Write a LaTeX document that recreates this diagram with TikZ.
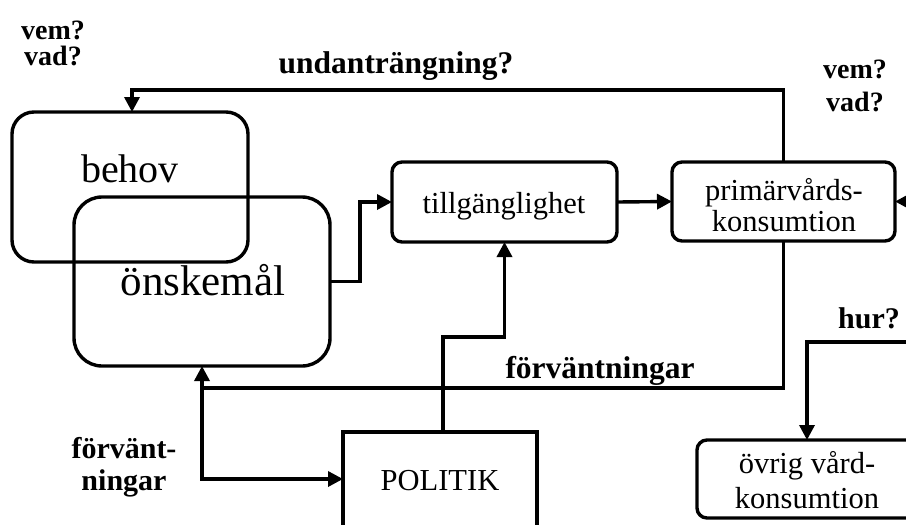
\documentclass[tikz,border=0pt]{standalone}
\usepackage{fontspec}
\setmainfont{Liberation Serif}
\usetikzlibrary{arrows.meta,calc}
\tikzset{
  box/.style={draw, line width=3.4pt, inner sep=0pt, outer sep=0pt, rounded corners=#1},
  box/.default=10pt,
  arr/.style={line width=3.4pt, -{Triangle[length=15pt,width=15pt]}},
  lbl/.style={font=\fontsize{30}{30}\selectfont\bfseries, anchor=base, inner sep=0pt},
  wide/.style={font=\fontsize{31.5}{31.5}\selectfont\bfseries, anchor=base, inner sep=0pt},
  sml/.style={font=\fontsize{28}{28}\selectfont\bfseries, anchor=base, inner sep=0pt},
  txt/.style={font=\fontsize{30.5}{30.5}\selectfont, anchor=base, inner sep=0pt},
  big/.style={font=\fontsize{40}{40}\selectfont, anchor=base, inner sep=0pt},
}
\begin{document}
\begin{tikzpicture}[x=1pt,y=-1pt]
\useasboundingbox (0,0) rectangle (906,525);
\clip (0,0) rectangle (906,525);
\fill[white] (0,0) rectangle (906,525);
% boxes
\node[box=22pt, minimum width=236pt, minimum height=150pt] (behov) at (130,187) {};
\node[box=28pt, minimum width=256pt, minimum height=169pt] (onske) at (202,281.5) {};
\node[box=10pt, minimum width=225pt, minimum height=80pt] (tillg) at (504.5,202) {};
\node[box=10pt, minimum width=223pt, minimum height=79pt] (primar) at (783.5,201.5) {};
\node[box=0pt, minimum width=194pt, minimum height=160pt] (polit) at (440,512) {};
\node[box=10pt, minimum width=220pt, minimum height=78pt] (ovrig) at (807,479) {};
% texts in boxes
\node[big] (behovtxt) at (130,182) {behov};
\node[big, font=\fontsize{43}{43}\selectfont] (onsketxt) at (203,295) {önskemål};
\node[txt] (tillgtxt) at (504,213) {tillgänglighet};
\node[txt] (primtxt1) at (784,200) {primärvårds-};
\node[txt] (primtxt2) at (784,231) {konsumtion};
\node[txt] (polittxt) at (440,490) {POLITIK};
\node[txt] (ovrtxt1) at (807,473) {övrig vård-};
\node[txt] (ovrtxt2) at (807,508) {konsumtion};
% labels
\node[sml] (vem1) at (53,39) {vem?};
\node[sml] (vad1) at (53,65) {vad?};
\node[sml] (vem2) at (855,78) {vem?};
\node[sml] (vad2) at (855,111) {vad?};
\node[wide] (undan) at (396,73) {undanträngning?};
\node[wide] (forv) at (600,378) {förväntningar};
\node[lbl] (forv1) at (124,458) {förvänt-};
\node[lbl] (forv2) at (124,490) {ningar};
\node[lbl] (hur) at (869,328) {hur?};
% connectors
\coordinate (fork) at (202,388);
\coordinate (rin) at (960,201.5);
\coordinate (hurin) at (960,342);
\coordinate (topy) at (0,90);
\draw[arr] (primar.north) |- (topy -| 132,0) -- ([xshift=2pt]behov.north);
\draw[arr] (onske.east) -- ++(30,0) |- (tillg.west);
\draw[arr] (tillg.east) -- (primar.west);
\draw[arr] (rin) -- (primar.east);
\draw[arr] (primar.south) |- (fork) -- (onske.south);
\draw[arr] (fork) |- ([yshift=33pt]polit.west);
\draw[arr] ([xshift=3pt]polit.north) |- ($(tillg.south)+(0,95)$) -| (tillg.south);
\draw[arr] (hurin) -| (ovrig.north);
\end{tikzpicture}
\end{document}
